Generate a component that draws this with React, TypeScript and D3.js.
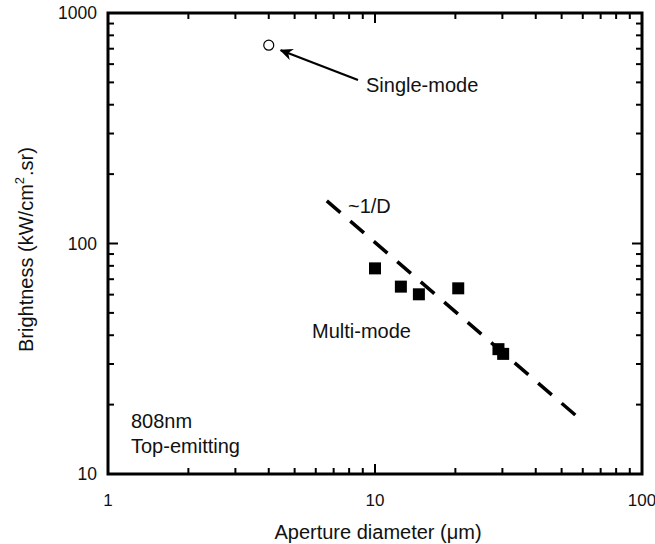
import * as d3 from 'd3';

const singleD = [4];
const singleB = [725];

const multiD = [10, 12.5, 14.6, 20.5, 29, 30.2];
const multiB = [78, 65, 60.2, 63.9, 34.8, 33.2];

// ~1/D guide line endpoints
const fitD = [6.6, 57.6];
const fitB = [153, 17.6];

const xTickLabels = ['1', '10', '100'];
const yTickLabels = ['10', '100', '1000'];

const W = 655;
const H = 544;
const left = 108;
const right = 642;
const top = 13;
const bottom = 474;
const font = '"Liberation Sans", Arial, Helvetica, sans-serif';

export default function App() {
  const x = d3.scaleLog().domain([1, 100]).range([left, right]);
  const y = d3.scaleLog().domain([10, 1000]).range([bottom, top]);

  const xMinor: number[] = [];
  const yMinor: number[] = [];
  [1, 10].forEach((dec) => {
    for (let k = 2; k <= 9; k++) xMinor.push(dec * k);
  });
  [10, 100].forEach((dec) => {
    for (let k = 2; k <= 9; k++) yMinor.push(dec * k);
  });
  const xMajor = xTickLabels.map(Number);
  const yMajor = yTickLabels.map(Number);

  const line = d3
    .line<number>()
    .x((d) => x(d))
    .y((_, i) => y(fitB[i]));

  const sq = 12;

  // arrow from label to single-mode point
  const ax0 = 358;
  const ay0 = 80;
  const ax1 = x(singleD[0]) + 12;
  const ay1 = y(singleB[0]) + 5;

  return (
    <svg
      width={W}
      height={H}
      style={{ position: 'absolute', left: 0, top: 0, display: 'block', background: '#fff' }}
      fontFamily={font}
    >
      <defs>
        <marker
          id="arrow"
          viewBox="0 0 10 10"
          refX="9"
          refY="5"
          markerWidth="6"
          markerHeight="6"
          markerUnits="strokeWidth"
          orient="auto"
        >
          <path d="M0,0.5 L10,5 L0,9.5 L3,5 Z" fill="#000" />
        </marker>
      </defs>

      {/* ticks */}
      {xMinor.map((v) => (
        <g key={'xm' + v} stroke="#000" strokeWidth={2}>
          <line x1={x(v)} x2={x(v)} y1={bottom} y2={bottom - 6} />
          <line x1={x(v)} x2={x(v)} y1={top} y2={top + 6} />
        </g>
      ))}
      {xMajor.map((v) => (
        <g key={'xM' + v} stroke="#000" strokeWidth={2}>
          <line x1={x(v)} x2={x(v)} y1={bottom} y2={bottom - 10} />
          <line x1={x(v)} x2={x(v)} y1={top} y2={top + 10} />
        </g>
      ))}
      {yMinor.map((v) => (
        <g key={'ym' + v} stroke="#000" strokeWidth={2}>
          <line x1={left} x2={left + 6} y1={y(v)} y2={y(v)} />
          <line x1={right} x2={right - 6} y1={y(v)} y2={y(v)} />
        </g>
      ))}
      {yMajor.map((v) => (
        <g key={'yM' + v} stroke="#000" strokeWidth={2}>
          <line x1={left} x2={left + 10} y1={y(v)} y2={y(v)} />
          <line x1={right} x2={right - 10} y1={y(v)} y2={y(v)} />
        </g>
      ))}

      {/* frame */}
      <rect
        x={left}
        y={top}
        width={right - left}
        height={bottom - top}
        fill="none"
        stroke="#000"
        strokeWidth={3}
      />

      {/* tick labels */}
      {xTickLabels.map((t) => (
        <text key={'xl' + t} x={x(+t)} y={506} fontSize={17} textAnchor="middle" fill="#111">
          {t}
        </text>
      ))}
      {yTickLabels.map((t) => (
        <text
          key={'yl' + t}
          x={97}
          y={y(+t)}
          dy="0.35em"
          fontSize={17.5}
          textAnchor="end"
          fill="#111"
        >
          {t}
        </text>
      ))}

      {/* axis titles */}
      <text x={378} y={539} fontSize={20} textAnchor="middle" fill="#111">
        Aperture diameter (μm)
      </text>
      <text
        transform="translate(33, 352) rotate(-90)"
        fontSize={20}
        textAnchor="start"
        fill="#111"
      >
        Brightness (kW/cm
        <tspan dy={-9} fontSize={13}>
          2
        </tspan>
        <tspan dy={9} dx={1}>
          .sr)
        </tspan>
      </text>

      {/* guide line */}
      <path
        d={line(fitD) ?? ''}
        fill="none"
        stroke="#000"
        strokeWidth={3.5}
        strokeDasharray="18,13"
      />

      {/* multi-mode points */}
      {multiD.map((d, i) => (
        <rect
          key={'m' + i}
          x={x(d) - sq / 2}
          y={y(multiB[i]) - sq / 2}
          width={sq}
          height={sq}
          fill="#000"
        />
      ))}

      {/* single-mode point */}
      {singleD.map((d, i) => (
        <circle
          key={'s' + i}
          cx={x(d)}
          cy={y(singleB[i])}
          r={5}
          fill="#fff"
          stroke="#000"
          strokeWidth={1.2}
        />
      ))}

      <line
        x1={ax0}
        y1={ay0}
        x2={ax1}
        y2={ay1}
        stroke="#000"
        strokeWidth={2.2}
        markerEnd="url(#arrow)"
      />

      {/* annotations */}
      <text x={366} y={92} fontSize={20} fill="#111">
        Single-mode
      </text>
      <text x={348} y={213} fontSize={20} fill="#111">
        ~1/D
      </text>
      <text x={312} y={338} fontSize={20} fill="#111">
        Multi-mode
      </text>
      <text x={131} y={428} fontSize={20} fill="#111">
        808nm
      </text>
      <text x={131} y={453} fontSize={20} fill="#111">
        Top-emitting
      </text>
    </svg>
  );
}
